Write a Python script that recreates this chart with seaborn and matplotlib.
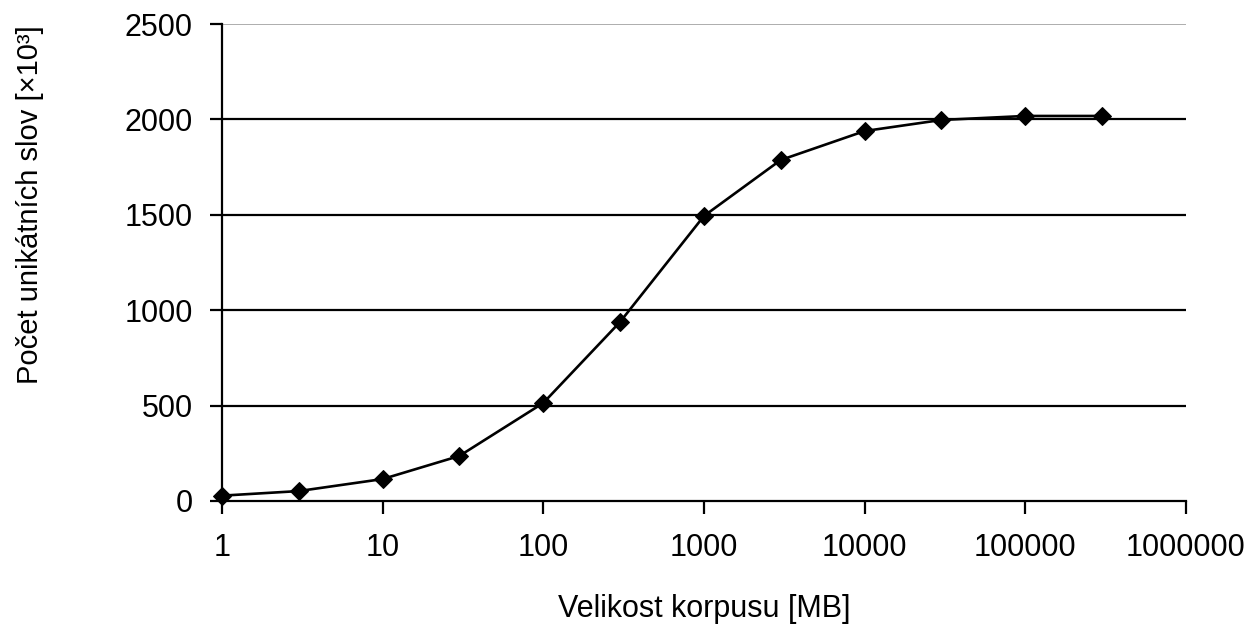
import matplotlib
matplotlib.use("Agg")
import matplotlib.pyplot as plt
import matplotlib.ticker as mticker
import seaborn as sns
import pandas as pd

corpus_size_mb = [1, 3, 10, 30, 100, 300, 1000, 3000, 10000, 30000, 100000, 300000]
unique_words_k = [28, 52, 115, 236, 514, 938, 1494, 1787, 1939, 1997, 2018, 2018]
x_ticks = [1, 10, 100, 1000, 10000, 100000, 1000000]
y_ticks = [0, 500, 1000, 1500, 2000, 2500]

sns.set_style("white")
plt.rcParams['font.family'] = ['Liberation Sans', 'DejaVu Sans']
plt.rcParams.update({"text.color": "black", "axes.labelcolor": "black",
                     "xtick.color": "black", "ytick.color": "black"})

df = pd.DataFrame({"size": corpus_size_mb, "words": unique_words_k})

fig = plt.figure(figsize=(12.54, 6.25), dpi=100)
ax = fig.add_axes([222/1254, 1 - 501/625, (1186-222)/1254, (501-24)/625])

for yv in y_ticks[1:-1]:
    ax.axhline(yv, color="black", lw=1.6, zorder=1)
ax.axhline(2500, color="#a0a0a0", lw=1.2, zorder=1)

sns.lineplot(data=df, x="size", y="words", ax=ax, color="black", lw=1.9,
             marker="D", markersize=9, markeredgecolor="black", zorder=3,
             clip_on=False)

ax.set_xscale("log")
ax.set_xlim(1, 1000000)
ax.set_ylim(0, 2500)
ax.xaxis.set_major_locator(mticker.FixedLocator(x_ticks))
ax.xaxis.set_minor_locator(mticker.NullLocator())
ax.set_xticks(x_ticks)
ax.set_xticklabels([str(v) for v in x_ticks])
ax.set_yticks(y_ticks)
ax.set_yticklabels([str(v) for v in y_ticks])

for s in ["top", "right"]:
    ax.spines[s].set_visible(False)
for s in ["left", "bottom"]:
    ax.spines[s].set_color("black")
    ax.spines[s].set_linewidth(1.6)

ax.tick_params(axis="both", which="major", direction="out", length=9, width=1.6,
               color="black", labelsize=22, bottom=True, left=True)
ax.tick_params(axis="y", pad=12)
ax.tick_params(axis="x", pad=14)

ax.set_xlabel("Velikost korpusu [MB]", fontsize=22, labelpad=22)
ax.set_ylabel("Počet unikátních slov [×10³]", fontsize=21)
ax.yaxis.set_label_coords((44 - 222) / 964, (501 - 205) / 477)

fig.savefig("out.png", dpi=100, facecolor="white")
